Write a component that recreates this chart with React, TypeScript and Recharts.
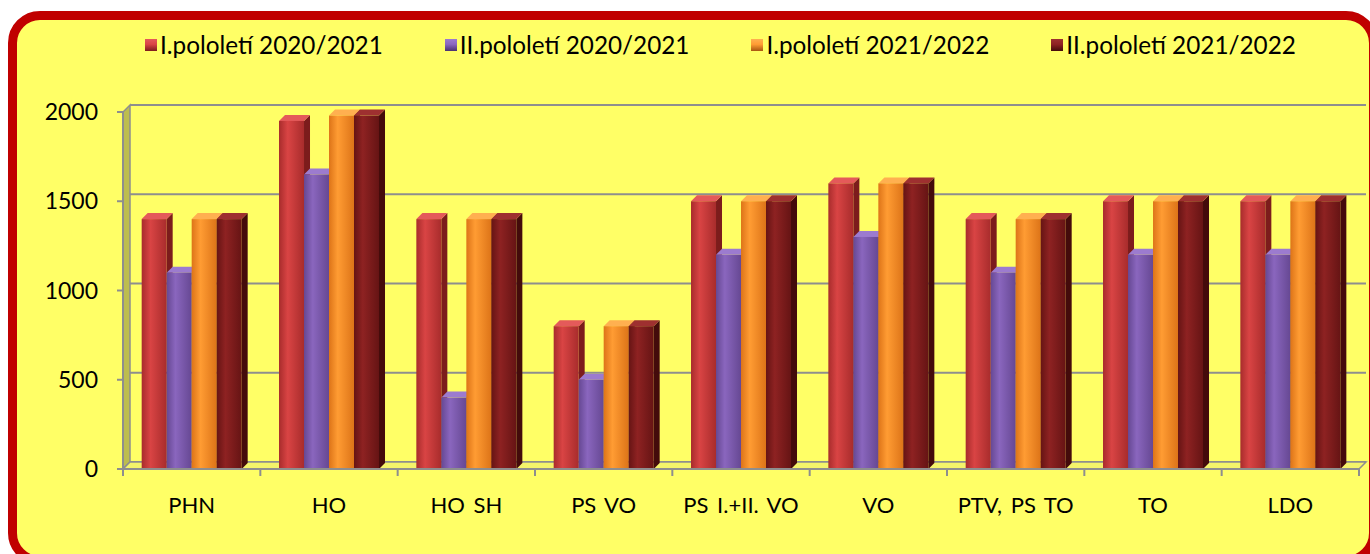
import React from 'react';
import { BarChart, Bar, XAxis, YAxis, CartesianGrid, ReferenceArea } from 'recharts';

// values (rounded to the visible grid)
const categories = ['PHN', 'HO', 'HO SH', 'PS VO', 'PS I.+II. VO', 'VO', 'PTV, PS TO', 'TO', 'LDO'];
const sem1_2021 = [1400, 1950, 1400, 800, 1500, 1600, 1400, 1500, 1500];
const sem2_2021 = [1100, 1650, 400, 500, 1200, 1300, 1100, 1200, 1200];
const sem1_2122 = [1400, 1980, 1400, 800, 1500, 1600, 1400, 1500, 1500];
const sem2_2122 = [1400, 1980, 1400, 800, 1500, 1600, 1400, 1500, 1500];
const seriesNames = ['I.pololetí 2020/2021', 'II.pololetí 2020/2021', 'I.pololetí 2021/2022', 'II.pololetí 2021/2022'];
const yTicks = [0, 500, 1000, 1500, 2000];

const palette = [
  { key: 'a', light: '#D94444', dark: '#A82C2C', side: '#7C1C1C', top: '#E45A5A' },
  { key: 'b', light: '#8A66BE', dark: '#664893', side: '#4A3270', top: '#9C7BCF' },
  { key: 'c', light: '#FF9C33', dark: '#DD7418', side: '#A85510', top: '#FFB050' },
  { key: 'd', light: '#8E2222', dark: '#661414', side: '#440B0B', top: '#9E3030' },
];

const data = categories.map((name, i) => ({
  name,
  a: sem1_2021[i],
  b: sem2_2021[i],
  c: sem1_2122[i],
  d: sem2_2122[i],
}));

const W = 1370;
const H = 554;
const MARGIN = { top: 112, right: 11, left: 0, bottom: 0 };
const Y_W = 123;
const X_H = 85;
const PLOT_W = W - MARGIN.right - Y_W;
const DEPTH = 7;
const AXIS = '#8E8E8E';
const FONT = 'Lato, "Open Sans", sans-serif';

const makeShape = (idx: number) => (props: any) => {
  const { x, y, width, height } = props;
  if (height == null || height <= 0) return <g />;
  const c = palette[idx];
  const d = 6;
  return (
    <g>
      <polygon
        points={`${x + width},${y} ${x + width + d},${y - d} ${x + width + d},${y + height - d} ${x + width},${y + height}`}
        fill={c.side}
      />
      <polygon
        points={`${x},${y} ${x + d},${y - d} ${x + width + d},${y - d} ${x + width},${y}`}
        fill={c.top}
      />
      <rect x={x} y={y} width={width} height={height} fill={`url(#grad-${c.key})`} />
    </g>
  );
};

const XTick = (props: any) => {
  const { x, y, payload, index } = props;
  const step = PLOT_W / categories.length;
  return (
    <g>
      <line x1={x - step / 2} y1={y} x2={x - step / 2} y2={y + 7} stroke={AXIS} strokeWidth={2} />
      {index === categories.length - 1 && (
        <line x1={x + step / 2} y1={y} x2={x + step / 2} y2={y + 7} stroke={AXIS} strokeWidth={2} />
      )}
      <text
        x={x}
        y={y + 44}
        textAnchor="middle"
        fontSize={22}
        fill="#000"
        fontFamily={FONT}
        style={{ wordSpacing: 3 }}
      >
        {payload.value}
      </text>
    </g>
  );
};

const Walls = (props: any) => {
  const { x, y, width, height } = props;
  const b = y + height;
  return (
    <g>
      <polygon
        points={`${x},${b} ${x + DEPTH},${b - DEPTH} ${x + DEPTH},${y - DEPTH} ${x},${y}`}
        fill="#BDBD4E"
        stroke={AXIS}
        strokeWidth={1.5}
      />
      <polygon
        points={`${x},${b} ${x + DEPTH},${b - DEPTH} ${x + width + DEPTH},${b - DEPTH} ${x + width},${b}`}
        fill="#F4F46A"
        stroke={AXIS}
        strokeWidth={1.5}
      />
    </g>
  );
};

const gridLine = (p: any) => (
  <line
    key={p.key}
    x1={p.x1 + DEPTH}
    y1={p.y1 - DEPTH}
    x2={p.x2 + DEPTH}
    y2={p.y2 - DEPTH}
    stroke={AXIS}
    strokeWidth={2}
  />
);

const LegendBar = () => (
  <div
    style={{
      position: 'absolute',
      left: 145,
      top: 30,
      display: 'flex',
      alignItems: 'center',
      fontFamily: FONT,
      fontSize: 24.3,
      lineHeight: 1.2,
      color: '#000',
      whiteSpace: 'nowrap',
    }}
  >
    {seriesNames.map((n, i) => (
      <div key={n} style={{ display: 'flex', alignItems: 'center', marginRight: 62 }}>
        <div
          style={{
            width: 12,
            height: 12,
            marginRight: 3,
            background: `linear-gradient(180deg, ${palette[i].top} 0%, ${palette[i].light} 45%, ${palette[i].side} 100%)`,
          }}
        />
        <span>{n}</span>
      </div>
    ))}
  </div>
);

// red rounded frame; it runs past the right and bottom edges of the picture
const Frame = () => (
  <svg width={W} height={H} style={{ position: 'absolute', left: 0, top: 0, overflow: 'hidden' }}>
    <rect x={12.5} y={15.5} width={1361} height={545} rx={27.5} ry={27.5} fill="#FFFF66" stroke="#C00000" strokeWidth={9} />
  </svg>
);

export default function App() {
  return (
    <div style={{ position: 'relative', width: W, height: H, overflow: 'hidden', fontFamily: FONT }}>
      <style>{`html,body{margin:0;padding:0;overflow:hidden;}`}</style>
      <Frame />
      <LegendBar />
      <div style={{ position: 'absolute', left: 0, top: 0 }}>
        <BarChart width={W} height={H} data={data} margin={MARGIN} barCategoryGap="13.6%" barGap={0}>
          <defs>
            {palette.map((c) => (
              <linearGradient key={c.key} id={`grad-${c.key}`} x1="0" y1="0" x2="1" y2="0">
                <stop offset="0%" stopColor={c.dark} />
                <stop offset="35%" stopColor={c.light} />
                <stop offset="100%" stopColor={c.dark} />
              </linearGradient>
            ))}
          </defs>
          <CartesianGrid vertical={false} horizontal={gridLine} />
          <ReferenceArea y1={0} y2={2000} shape={Walls} ifOverflow="visible" zIndex={-60} />
          <XAxis
            dataKey="name"
            height={X_H}
            interval={0}
            tickLine={false}
            tickSize={0}
            tickMargin={0}
            axisLine={{ stroke: AXIS, strokeWidth: 2 }}
            tick={<XTick />}
          />
          <YAxis
            width={Y_W}
            domain={[0, 2000]}
            ticks={yTicks}
            tickSize={6}
            tickMargin={19}
            tickLine={{ stroke: AXIS, strokeWidth: 2 }}
            axisLine={{ stroke: AXIS, strokeWidth: 2 }}
            tick={{ fill: '#000', fontSize: 23, fontFamily: FONT }}
          />
          {palette.map((c, i) => (
            <Bar
              key={c.key}
              dataKey={c.key}
              name={seriesNames[i]}
              fill={c.light}
              shape={makeShape(i)}
              isAnimationActive={false}
            />
          ))}
        </BarChart>
      </div>
    </div>
  );
}
